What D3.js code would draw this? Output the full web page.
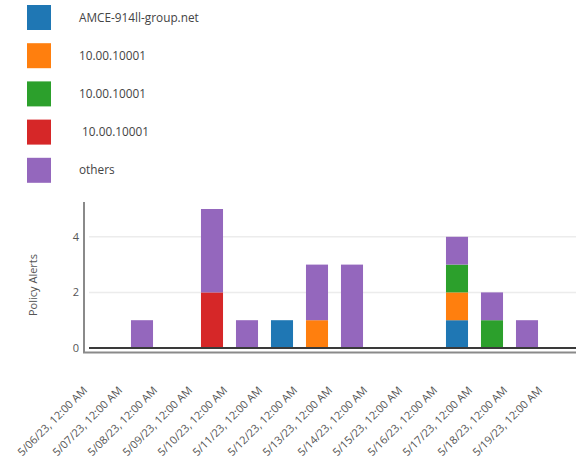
<!DOCTYPE html>
<html>
<head>
<meta charset="utf-8">
<script src="https://cdn.jsdelivr.net/npm/d3@7"></script>
<style>
  html, body { margin: 0; padding: 0; background: #fff; }
  svg { display: block; font-family: "Open Sans", sans-serif; }
</style>
</head>
<body>
<svg id="chart" width="576" height="466"></svg>
<script>
// Daily policy alert counts per source, stacked
const dates = ["5/06/23", "5/07/23", "5/08/23", "5/09/23", "5/10/23", "5/11/23", "5/12/23",
               "5/13/23", "5/14/23", "5/15/23", "5/16/23", "5/17/23", "5/18/23", "5/19/23"];
const seriesKeys = ["amce", "ip1", "ip2", "ip3", "others"];
const seriesLabels = ["AMCE-914ll-group.net", "10.00.10001", "10.00.10001", " 10.00.10001", "others"];
const seriesColors = ["#1f77b4", "#ff7f0e", "#2ca02c", "#d62728", "#9467bd"];
const amce   = [0, 0, 0, 0, 0, 1, 0, 0, 0, 0, 1, 0, 0, 0];
const ip1    = [0, 0, 0, 0, 0, 0, 1, 0, 0, 0, 1, 0, 0, 0];
const ip2    = [0, 0, 0, 0, 0, 0, 0, 0, 0, 0, 1, 1, 0, 0];
const ip3    = [0, 0, 0, 2, 0, 0, 0, 0, 0, 0, 0, 0, 0, 0];
const others = [0, 1, 0, 3, 1, 0, 2, 3, 0, 0, 1, 1, 1, 0];
const yTicks = [0, 2, 4];

const rows = dates.map((d, i) => ({
  date: d, amce: amce[i], ip1: ip1[i], ip2: ip2[i], ip3: ip3[i], others: others[i]
}));
const stacked = d3.stack().keys(seriesKeys)(rows);

const svg = d3.select("#chart");

// Legend
const legend = svg.append("g");
seriesKeys.forEach((k, i) => {
  const g = legend.append("g").attr("transform", `translate(27,${5 + i * 38.2})`);
  g.append("rect").attr("width", 24).attr("height", 25).attr("fill", seriesColors[i]);
  g.append("text").attr("x", 52).attr("y", 12.5).attr("dy", "0.35em")
    .attr("font-size", 11.8).attr("fill", "#444").style("white-space", "pre")
    .attr("xml:space", "preserve")
    .text(seriesLabels[i]);
});

// Scales
const x = d3.scaleBand().domain(dates).range([89.5, 579.5]).paddingInner(0.37).paddingOuter(0.185);
const y = d3.scaleLinear().domain([0, 5]).range([348, 209]);

// Gridlines
svg.append("g").selectAll("line").data(yTicks.filter(t => t > 0)).join("line")
  .attr("x1", 89).attr("x2", 576)
  .attr("y1", d => y(d)).attr("y2", d => y(d))
  .attr("stroke", "#ececec").attr("stroke-width", 1.5);

// Bars
svg.append("g").selectAll("g").data(stacked).join("g")
  .attr("fill", (s, i) => seriesColors[i])
  .selectAll("rect").data(s => s.filter(d => d[1] - d[0] > 0)).join("rect")
  .attr("x", d => x(d.data.date))
  .attr("width", x.bandwidth())
  .attr("y", d => y(d[1]))
  .attr("height", d => y(d[0]) - y(d[1]));

// Zero line
svg.append("line").attr("x1", 89).attr("x2", 576).attr("y1", y(0)).attr("y2", y(0))
  .attr("stroke", "#3a3a3a").attr("stroke-width", 2);

// Axis frame
svg.append("path").attr("d", "M84,202V352.5H576")
  .attr("fill", "none").attr("stroke", "#8a8a8a").attr("stroke-width", 2);

// Y tick labels
const yAxis = d3.axisLeft(y).tickValues(yTicks).tickFormat(d3.format("d")).tickSize(0).tickPadding(0);
const yg = svg.append("g").attr("transform", "translate(79,0)").call(yAxis);
yg.select(".domain").remove();
yg.selectAll("text").attr("font-size", 11).attr("fill", "#555").attr("font-family", "Open Sans, sans-serif");

// X tick labels, rotated
const xAxis = d3.axisBottom(x).tickSize(0).tickPadding(0).tickFormat(d => d + ", 12:00 AM");
const xg = svg.append("g").attr("transform", "translate(0,391)").call(xAxis);
xg.select(".domain").remove();
xg.selectAll("text")
  .attr("font-size", 11).attr("fill", "#555").attr("font-family", "Open Sans, sans-serif")
  .attr("text-anchor", "end").attr("dy", 0).attr("y", 0)
  .attr("transform", "translate(-19,0) rotate(-45)");

// Y axis title
svg.append("text").attr("transform", "translate(37,285) rotate(-90)")
  .attr("text-anchor", "middle").attr("font-size", 11).attr("fill", "#555")
  .text("Policy Alerts");
</script>
</body>
</html>
